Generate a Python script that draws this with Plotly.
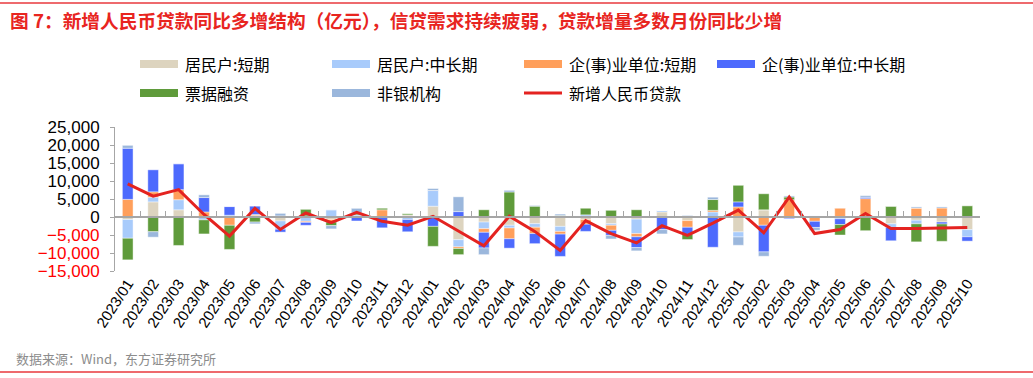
import plotly.graph_objects as go

months = ["2023/01", "2023/02", "2023/03", "2023/04", "2023/05", "2023/06",
          "2023/07", "2023/08", "2023/09", "2023/10", "2023/11", "2023/12",
          "2024/01", "2024/02", "2024/03", "2024/04", "2024/05", "2024/06",
          "2024/07", "2024/08", "2024/09", "2024/10", "2024/11", "2024/12",
          "2025/01", "2025/02", "2025/03", "2025/04", "2025/05", "2025/06",
          "2025/07", "2025/08", "2025/09", "2025/10"]

hh_short = [-700, 4200, 2000, 0, 0, 0, -1100, 300, -700, 0, 0, 600,
            3000, -6300, -1400, -2300, -1850, -2600, -700, -1850, -600, 1400, -1000, 0,
            -4150, 2000, 0, 0, 0, 0, -1900, -900, -1400, -3500]
hh_long = [-5200, 1300, 2800, -800, 500, 400, -2300, -1200, 2000, 600, 0, -700,
           4350, -2000, -1850, -750, -1000, -1400, 600, -450, -4000, 400, 0, 1400,
           -1400, 0, 0, 300, -500, 0, -1000, -1000, 0, -2000]
corp_short = [4900, 1500, 2800, 1400, -2300, 300, 0, -300, -700, 0, 2000, 0,
              0, -450, -1000, -3000, -1750, -750, -1300, -1400, -900, 0, -1850, 450,
              2800, -2300, 4800, -1200, 2500, 5100, 0, 2500, 2500, 0]
corp_long = [14200, 6100, 7200, 4000, 2400, 2300, -800, -800, 0, -1100, -3000, -3400,
             -2600, 1500, -4350, -2600, -2800, -6200, -2000, -1400, -3000, -3500, -2000, -8400,
             1400, -7400, -450, -1700, -1600, 370, -3700, 0, -550, -1200]
bills = [-6000, -4100, -7900, -3900, -6700, -1400, 300, 1900, -1000, 600, 500, 400,
         -5550, -1700, 2000, 6950, 3000, 400, 1900, 1850, 2000, 0, -1400, 3000,
         4600, 4450, 750, 0, -2900, -3800, 3000, -5000, -4800, 3150]
nonbank = [800, -1500, 0, 750, 0, -500, 700, 0, -900, 1200, 0, 0,
           550, 4100, -1850, 450, 200, 400, 0, -1000, -900, -1200, 400, 650,
           -2300, -1200, 300, -800, 0, 450, 0, 300, 300, 0]
total = [9200, 5800, 7600, 700, -5300, 2400, -3450, 1100, -1600, 1300, -1200, -2300,
         200, -3900, -8000, 200, -4000, -9300, -1000, -4600, -7200, -2400, -5100, -1700,
         1900, -4400, 5500, -4600, -3500, 1000, -3200, -3200, -3100, -2900]

series_names = ["居民户:短期", "居民户:中长期", "企(事)业单位:短期", "企(事)业单位:中长期", "票据融资", "非银机构"]
series_vals = [hh_short, hh_long, corp_short, corp_long, bills, nonbank]
series_colors = ["#DDD4BF", "#A8CBFB", "#FF9F5B", "#4D6AFD", "#5F9B3B", "#9BB7DC"]
line_name = "新增人民币贷款"
line_color = "#E42320"

y_min, y_max = -15000, 25000
y_ticks_pos = [0, 5000, 10000, 15000, 20000, 25000]
y_ticks_neg = [-15000, -10000, -5000]

W, H = 1033, 378
L, R, T, B = 115, 53, 127, 107
PW, PH = W - L - R, H - T - B


def px_x(px):
    return (px - L) / PW


def px_y(py):
    return (H - B - py) / PH


fig = go.Figure()
for name, vals, color in zip(series_names, series_vals, series_colors):
    fig.add_bar(x=months, y=vals, name=name, width=0.42,
                marker=dict(color=color, line=dict(width=0.6, color="rgba(255,255,255,0.7)")))
fig.add_scatter(x=months, y=total, mode="lines", name=line_name,
                line=dict(color=line_color, width=3))
# helper traces for the zero-crossing category axis and the red negative tick labels
fig.add_scatter(x=months, y=[None] * len(months), xaxis="x2", yaxis="y",
                mode="lines", showlegend=False, hoverinfo="skip")
fig.add_scatter(x=months, y=[None] * len(months), xaxis="x", yaxis="y3",
                mode="lines", showlegend=False, hoverinfo="skip")

zero_frac = (0 - y_min) / (y_max - y_min)
ytick_common = dict(range=[y_min, y_max], showgrid=False, zeroline=False,
                    ticks="outside", ticklen=4, tickcolor="#A6A6A6",
                    ticklabelstandoff=7, tickformat=",d")

fig.update_layout(
    width=W, height=H,
    margin=dict(l=L, r=R, t=T, b=B),
    barmode="relative",
    showlegend=False,
    paper_bgcolor="white", plot_bgcolor="white",
    font=dict(family="Liberation Sans, Arial, sans-serif", color="black"),
    xaxis=dict(type="category", categoryorder="array", categoryarray=months,
               range=[-0.5, len(months) - 0.5], showline=False, showgrid=False,
               ticks="", tickangle=-57, tickfont=dict(size=15, color="black")),
    xaxis2=dict(type="category", categoryorder="array", categoryarray=months,
                range=[-0.5, len(months) - 0.5], overlaying="x", anchor="free",
                position=zero_frac, side="bottom", showline=True, linecolor="#A6A6A6",
                linewidth=2, ticks="inside", ticklen=5, tickcolor="#A6A6A6", tickwidth=1,
                tickson="boundaries", showticklabels=False, showgrid=False, layer="above traces"),
    yaxis=dict(tickvals=y_ticks_pos, showline=True, linecolor="#A6A6A6", linewidth=1,
               tickfont=dict(size=17, color="black"), **ytick_common),
    yaxis3=dict(tickvals=y_ticks_neg, overlaying="y", side="left", anchor="x", showline=False,
                tickfont=dict(size=17, color="#FF0000"), **ytick_common),
)

shapes = []
annotations = []
# title and separators
annotations.append(dict(xref="paper", yref="paper", x=px_x(8), y=px_y(19), xanchor="left", yanchor="middle",
                        text="<b>图 7：新增人民币贷款同比多增结构（亿元），信贷需求持续疲弱，贷款增量多数月份同比少增</b>",
                        showarrow=False, font=dict(family="Noto Sans CJK SC", size=18.7, color="#E8251F")))
annotations.append(dict(xref="paper", yref="paper", x=px_x(14), y=px_y(358), xanchor="left", yanchor="middle",
                        text="数据来源：Wind，东方证券研究所", showarrow=False,
                        font=dict(family="Noto Sans CJK SC", size=13, color="#8C8C8C")))
for py in (3, 372):
    shapes.append(dict(type="line", xref="paper", yref="paper", x0=px_x(0), x1=px_x(W), y0=px_y(py), y1=px_y(py),
                       line=dict(color="#E8383D", width=1.5)))

# custom legend
legend_pos = [(140, 64), (332, 64), (524, 64), (717, 64), (140, 93), (332, 93)]
for (lx, ly), name, color in zip(legend_pos, series_names, series_colors):
    shapes.append(dict(type="rect", xref="paper", yref="paper", x0=px_x(lx), x1=px_x(lx + 38),
                       y0=px_y(ly + 4), y1=px_y(ly - 4), fillcolor=color, line=dict(width=0)))
    annotations.append(dict(xref="paper", yref="paper", x=px_x(lx + 43), y=px_y(ly), xanchor="left",
                            yanchor="middle", text=name, showarrow=False,
                            font=dict(family="Noto Sans CJK SC", size=16, color="black")))
lx, ly = 524, 93
shapes.append(dict(type="line", xref="paper", yref="paper", x0=px_x(lx), x1=px_x(lx + 38),
                   y0=px_y(ly), y1=px_y(ly), line=dict(color=line_color, width=3)))
annotations.append(dict(xref="paper", yref="paper", x=px_x(lx + 43), y=px_y(ly), xanchor="left",
                        yanchor="middle", text=line_name, showarrow=False,
                        font=dict(family="Noto Sans CJK SC", size=16, color="black")))

fig.update_layout(shapes=shapes, annotations=annotations)
fig.write_html("out.html", config={"displayModeBar": False},
               post_script="document.body.style.margin='0';document.body.style.padding='0';"
                           "document.documentElement.style.overflow='hidden';")
